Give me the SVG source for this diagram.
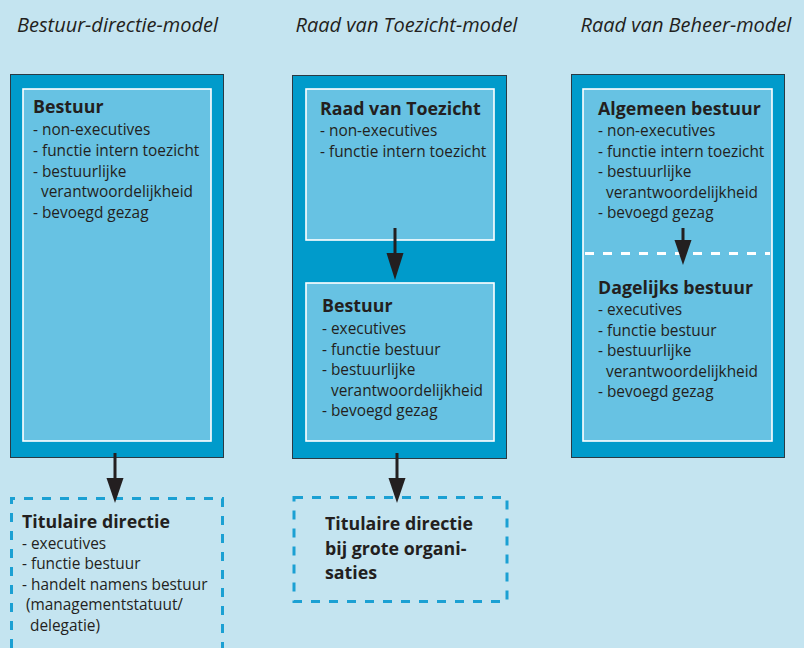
<svg xmlns="http://www.w3.org/2000/svg" width="804" height="648" viewBox="0 0 804 648">
<style>
.bg{fill:#c4e4f0}
.outer{fill:#009bcb;stroke:#2a3a44;stroke-width:1}
.inner{fill:#67c2e3;stroke:#ffffff;stroke-width:1.6}
.dash{fill:none;stroke:#1ba0d3;stroke-width:3;stroke-dasharray:9 9}
.head{font-family:"Open Sans","Liberation Sans",sans-serif;font-style:italic;font-size:20px;fill:#231f20;text-anchor:middle}
.ttl{font-family:"Open Sans","Liberation Sans",sans-serif;font-weight:bold;font-size:17.8px;fill:#231f20}
.txt{font-family:"Open Sans","Liberation Sans",sans-serif;font-size:15.4px;fill:#231f20}
.arr{stroke:#231f20;stroke-width:3;fill:none}
.ah{fill:#231f20}
.wdash{stroke:#ffffff;stroke-width:3;stroke-dasharray:9 9}
</style>
<rect class="bg" x="0" y="0" width="804" height="648"/>
<g id="headers">
<text class="head" x="117.5" y="32">Bestuur-directie-model</text>
<text class="head" x="406.5" y="32">Raad van Toezicht-model</text>
<text class="head" x="686" y="32">Raad van Beheer-model</text>
</g>
<g id="col1">
<rect class="outer" x="10.5" y="74.5" width="213" height="383"/>
<g id="bestuur1">
<rect class="inner" x="23" y="89" width="188" height="352"/>
<text class="ttl" x="33" y="113">Bestuur</text>
<text class="txt" x="33" y="135">- non-executives</text>
<text class="txt" x="33" y="156">- functie intern toezicht</text>
<text class="txt" x="33" y="177">- bestuurlijke</text>
<text class="txt" x="41" y="197">verantwoordelijkheid</text>
<text class="txt" x="33" y="218">- bevoegd gezag</text>
</g>
</g>
<g id="titulaire1">
<path class="dash" d="M11.5 648 V498.5 H222.5 V648"/>
<text class="ttl" x="22" y="528">Titulaire directie</text>
<text class="txt" x="22" y="549">- executives</text>
<text class="txt" x="22" y="569">- functie bestuur</text>
<text class="txt" x="22" y="590">- handelt namens bestuur</text>
<text class="txt" x="26" y="610">(managementstatuut/</text>
<text class="txt" x="30" y="631">delegatie)</text>
</g>
<g id="col2">
<rect class="outer" x="292.5" y="75.5" width="214" height="383"/>
<g id="rvt">
<rect class="inner" x="306" y="89" width="188" height="151"/>
<text class="ttl" x="320" y="115">Raad van Toezicht</text>
<text class="txt" x="320" y="136">- non-executives</text>
<text class="txt" x="320" y="157">- functie intern toezicht</text>
</g>
<g id="bestuur2">
<rect class="inner" x="306" y="283" width="188" height="158"/>
<text class="ttl" x="322" y="312">Bestuur</text>
<text class="txt" x="322" y="334">- executives</text>
<text class="txt" x="322" y="355">- functie bestuur</text>
<text class="txt" x="322" y="375">- bestuurlijke</text>
<text class="txt" x="331" y="396">verantwoordelijkheid</text>
<text class="txt" x="322" y="416">- bevoegd gezag</text>
</g>
</g>
<g id="titulaire2">
<rect class="dash" x="294" y="497.5" width="213" height="104"/>
<text class="ttl" x="325" y="530">Titulaire directie</text>
<text class="ttl" x="325" y="555">bij grote organi-</text>
<text class="ttl" x="325" y="579">saties</text>
</g>
<g id="col3">
<rect class="outer" x="571.5" y="74.5" width="213" height="383"/>
<rect class="inner" x="583" y="89" width="189" height="352"/>
<g id="algemeen">
<text class="ttl" x="598" y="115">Algemeen bestuur</text>
<text class="txt" x="598" y="136">- non-executives</text>
<text class="txt" x="598" y="157">- functie intern toezicht</text>
<text class="txt" x="598" y="177">- bestuurlijke</text>
<text class="txt" x="606" y="198">verantwoordelijkheid</text>
<text class="txt" x="598" y="218">- bevoegd gezag</text>
</g>
<line class="wdash" x1="585" y1="253.5" x2="770" y2="253.5"/>
<g id="dagelijks">
<text class="ttl" x="598" y="294">Dagelijks bestuur</text>
<text class="txt" x="598" y="315">- executives</text>
<text class="txt" x="598" y="336">- functie bestuur</text>
<text class="txt" x="598" y="356">- bestuurlijke</text>
<text class="txt" x="606" y="377">verantwoordelijkheid</text>
<text class="txt" x="598" y="397">- bevoegd gezag</text>
</g>
</g>
<g id="connectors">
<line class="arr" x1="115" y1="453" x2="115" y2="480"/>
<polygon class="ah" points="106.5,478 123.5,478 115,503"/>
<line class="arr" x1="395" y1="228" x2="395" y2="255"/>
<polygon class="ah" points="386.5,253 403.5,253 395,280"/>
<line class="arr" x1="397" y1="453" x2="397" y2="480"/>
<polygon class="ah" points="388.5,478 405.5,478 397,503"/>
<line class="arr" x1="683" y1="228" x2="683" y2="242"/>
<polygon class="ah" points="674.5,240 691.5,240 683,265"/>
</g>
</svg>
